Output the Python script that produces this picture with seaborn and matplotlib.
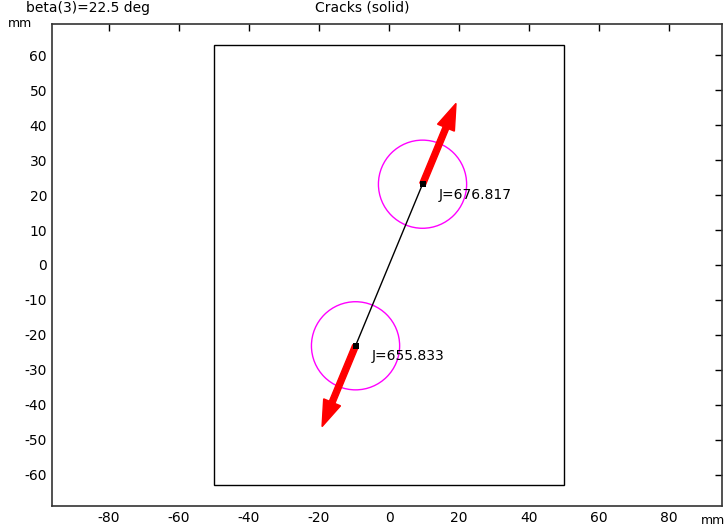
import numpy as np
import pandas as pd
import matplotlib
matplotlib.use("Agg")
import matplotlib.pyplot as plt
import seaborn as sns
from matplotlib.patches import Circle, Rectangle

sns.set_style("white")
plt.rcParams['font.family'] = ['DejaVu Sans']
plt.rcParams['axes.unicode_minus'] = False
plt.rcParams['text.color'] = 'black'

# Data
beta_deg = 22.5
half_len = 25.0
tip_x = [-9.57, 9.57]
tip_y = [-23.1, 23.1]
J_values = [655.833, 676.817]
circle_r = 12.6
arrow_len = 25.0
plate_x = [-50, 50]
plate_y = [-63, 63]
xticks = [-80, -60, -40, -20, 0, 20, 40, 60, 80]
yticks = [-60, -50, -40, -30, -20, -10, 0, 10, 20, 30, 40, 50, 60]

fig = plt.figure(figsize=(7.25, 5.3), dpi=100)
ax = fig.add_axes([0.0717, 0.0453, 0.924, 0.9094])

# plate
ax.add_patch(Rectangle((plate_x[0], plate_y[0]), plate_x[1] - plate_x[0], plate_y[1] - plate_y[0],
                       fill=False, edgecolor='black', lw=1.0))

crack = pd.DataFrame({"x": tip_x, "y": tip_y})
sns.lineplot(data=crack, x="x", y="y", ax=ax, color='black', lw=1.0, sort=False)
sns.scatterplot(data=crack, x="x", y="y", ax=ax, color='black', marker='s', s=16, linewidth=0, zorder=5)

dx = np.sin(np.deg2rad(beta_deg))
dy = np.cos(np.deg2rad(beta_deg))
signs = [-1, 1]
for x0, y0, J, s in zip(tip_x, tip_y, J_values, signs):
    ax.add_patch(Circle((x0, y0), circle_r, fill=False, edgecolor='#ff00ff', lw=1.0))
    ax.arrow(x0, y0, s * dx * arrow_len, s * dy * arrow_len, width=1.7, head_width=5.2,
             head_length=7.5, length_includes_head=True, color='red', zorder=4)
    ax.text(x0 + 4.5, y0 - 1, f"J={J:.3f}", fontsize=10, ha='left', va='top', color='black')

ax.set_xlim(-96.3, 95.1)
ax.set_ylim(-68.9, 68.9)
ax.set_xticks(xticks)
ax.set_yticks(yticks)
ax.set_xlabel("")
ax.set_ylabel("")
ax.tick_params(direction='in', length=5, width=1, top=True, right=True, labelsize=10,
               colors='black')
for sp in ax.spines.values():
    sp.set_visible(True)
    sp.set_color('#333333')
    sp.set_linewidth(1.2)

fig.text(0.5, 0.985, "Cracks (solid)", ha='center', va='center', fontsize=10)
fig.text(0.036, 0.985, "beta(3)=22.5 deg", ha='left', va='center', fontsize=10)
fig.text(0.011, 0.955, "mm", ha='left', va='center', fontsize=9)
fig.text(0.983, 0.017, "mm", ha='center', va='center', fontsize=9)

fig.savefig("out.png", dpi=100)
